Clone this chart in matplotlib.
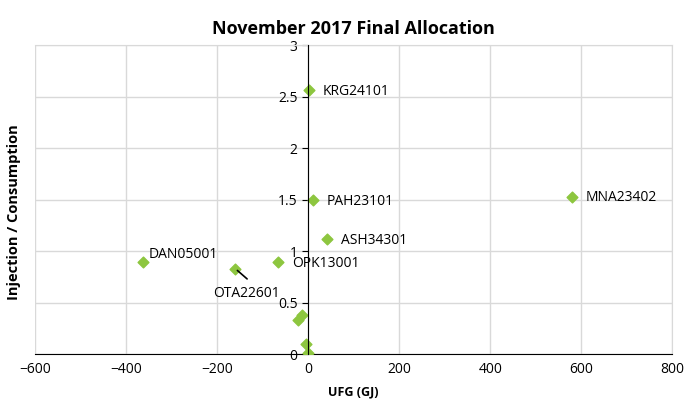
import numpy as np
import matplotlib.pyplot as plt

plt.rcParams['font.family'] = ['Open Sans', 'DejaVu Sans']

# data
names = ["KRG24101", "PAH23101", "MNA23402", "ASH34301", "DAN05001",
         "OTA22601", "OPK13001", "", "", "", ""]
ufg = [2, 11, 580, 42, -363, -160, -66, -14, -23, -5, -1]
ratio = [2.56, 1.50, 1.53, 1.12, 0.89, 0.83, 0.89, 0.38, 0.33, 0.10, 0.01]

fig = plt.figure(figsize=(6.86, 4.07), dpi=100)
ax = fig.add_axes([0.051, 0.130, 0.929, 0.759])

ax.scatter(ufg, ratio, marker='D', s=30, color='#8DC63F', zorder=3)

for n, x, y in zip(names, ufg, ratio):
    if n == "":
        continue
    if n == "OTA22601":
        # label pulled away from its point with a leader line
        ax.annotate("", xy=(x, y), xytext=(-134, 0.73),
                    arrowprops=dict(arrowstyle='-', color='black', lw=1.2,
                                    shrinkA=0, shrinkB=2))
        ax.text(-136, 0.59, n, fontsize=10, ha='center', va='center')
    elif n == "DAN05001":
        ax.annotate(n, xy=(x, y), xytext=(6, 8), textcoords='offset pixels',
                    fontsize=10, va='center')
    else:
        ax.annotate(n, xy=(x, y), xytext=(10, -1), textcoords='offset points',
                    fontsize=10, va='center')

ax.set_xlim(-600, 800)
ax.set_ylim(0, 3)
ax.set_xticks(np.arange(-600, 801, 200))
ax.set_yticks([0, 0.5, 1, 1.5, 2, 2.5, 3])
ax.set_yticklabels(["0", "0.5", "1", "1.5", "2", "2.5", "3"])
ax.grid(True, color='#d9d9d9', lw=1, zorder=0)

ax.spines['left'].set_position(('data', 0))
ax.spines['left'].set_zorder(4)
for s in ['top', 'right']:
    ax.spines[s].set_color('#d9d9d9')
ax.spines['bottom'].set_color('black')
ax.tick_params(axis='both', labelsize=10, length=4, color='black')
ax.tick_params(axis='x', length=0, pad=6)

ax.set_title("November 2017 Final Allocation", fontsize=13, fontweight='bold', pad=8)
ax.set_xlabel("UFG (GJ)", fontsize=9, fontweight='bold', labelpad=6)
ax.set_ylabel("Injection / Consumption", fontsize=10.5, fontweight='bold')
ax.yaxis.set_label_coords(-0.022, 0.46)

fig.savefig("out.png", dpi=100)
